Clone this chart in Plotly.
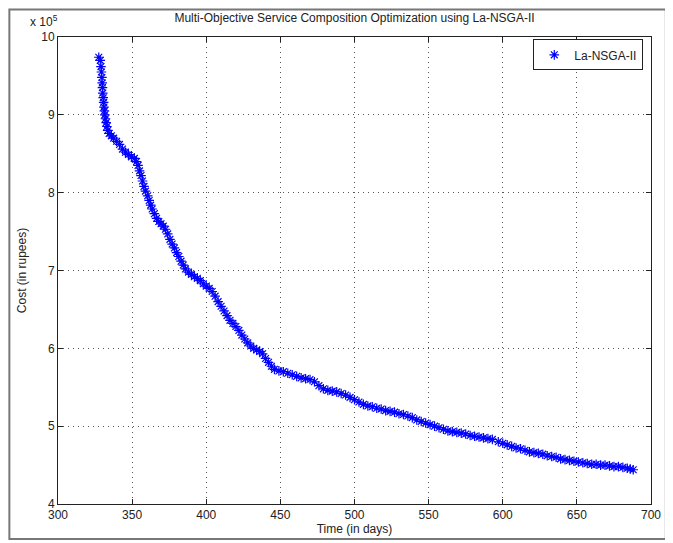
import plotly.graph_objects as go

# Time (in days)
time_days = [
    327.5, 328.5, 329.0, 329.3, 329.6, 329.8, 330.0, 330.2, 330.5, 330.8,
    331.0, 331.3, 331.6, 332.0, 332.5, 333.0, 333.5, 334.5, 336.0, 337.5,
    339.5, 341.5, 343.5, 345.5, 347.5, 349.5, 351.5, 353.0, 354.0, 355.0,
    356.0, 357.0, 358.0, 359.0, 360.5, 361.5, 362.5, 363.5, 365.0, 366.5,
    368.0, 369.5, 371.0, 372.5, 374.0, 375.5, 377.0, 378.5, 380.0, 381.5,
    383.0, 384.5, 386.0, 388.0, 390.0, 392.0, 394.0, 396.0, 398.0, 400.0,
    402.0, 404.0, 406.0, 408.0, 410.0, 412.0, 414.0, 416.0, 418.0, 420.0,
    422.0, 424.0, 426.0, 428.0, 430.0, 432.0, 434.0, 436.0, 438.0, 440.0,
    442.0, 444.0, 446.0, 449.0, 452.0, 455.0, 458.0, 461.0, 464.0, 467.0,
    470.0, 473.0, 476.0, 479.0, 482.0, 485.0, 488.0, 491.0, 494.0, 497.0,
    500.0, 503.0, 506.0, 509.0, 512.0, 515.0, 518.0, 521.0, 524.0, 527.0,
    530.0, 533.0, 536.0, 539.0, 542.0, 545.0, 548.0, 551.0, 554.0, 557.0,
    560.0, 563.0, 566.0, 569.0, 572.0, 575.0, 578.0, 581.0, 584.0, 587.0,
    590.0, 593.0, 597.0, 600.0, 603.0, 606.0, 609.0, 612.0, 615.0, 618.0,
    621.0, 624.0, 627.0, 630.0, 633.0, 636.0, 639.0, 642.0, 645.0, 648.0,
    651.0, 654.0, 657.0, 660.0, 663.0, 666.0, 669.0, 672.0, 675.0, 678.0,
    681.0, 684.0, 686.0, 688.0,
]

# Cost (in rupees), read in units of 1e5
cost_1e5 = [
    9.74, 9.70, 9.62, 9.55, 9.48, 9.41, 9.35, 9.28, 9.22, 9.16,
    9.10, 9.05, 9.00, 8.95, 8.90, 8.85, 8.80, 8.76, 8.73, 8.70,
    8.66, 8.62, 8.56, 8.52, 8.49, 8.46, 8.44, 8.40, 8.35, 8.28,
    8.22, 8.15, 8.08, 8.02, 7.96, 7.90, 7.84, 7.79, 7.73, 7.67,
    7.63, 7.60, 7.57, 7.53, 7.47, 7.40, 7.34, 7.29, 7.23, 7.18,
    7.12, 7.07, 7.02, 6.98, 6.95, 6.92, 6.90, 6.87, 6.83, 6.80,
    6.77, 6.73, 6.67, 6.60, 6.54, 6.48, 6.42, 6.36, 6.32, 6.28,
    6.23, 6.17, 6.12, 6.07, 6.03, 6.00, 5.98, 5.96, 5.93, 5.87,
    5.82, 5.77, 5.73, 5.71, 5.70, 5.68, 5.66, 5.64, 5.62, 5.61,
    5.60, 5.57, 5.52, 5.48, 5.46, 5.45, 5.44, 5.42, 5.40, 5.37,
    5.34, 5.31, 5.28, 5.26, 5.25, 5.23, 5.22, 5.20, 5.19, 5.18,
    5.16, 5.15, 5.13, 5.11, 5.08, 5.06, 5.04, 5.02, 5.00, 4.98,
    4.96, 4.94, 4.93, 4.92, 4.91, 4.90, 4.88, 4.87, 4.86, 4.85,
    4.84, 4.83, 4.80, 4.78, 4.76, 4.74, 4.72, 4.71, 4.69, 4.67,
    4.66, 4.65, 4.64, 4.62, 4.61, 4.60, 4.58, 4.57, 4.56, 4.55,
    4.54, 4.53, 4.52, 4.51, 4.51, 4.50, 4.50, 4.49, 4.48, 4.48,
    4.47, 4.46, 4.45, 4.44,
]
cost = [c * 1e5 for c in cost_1e5]

x_ticks = [300, 350, 400, 450, 500, 550, 600, 650, 700]
y_tick_labels = ["4", "5", "6", "7", "8", "9", "10"]
y_ticks = [int(v) * 100000 for v in y_tick_labels]

FONT = "Liberation Sans, Arial, Helvetica, sans-serif"

fig = go.Figure()
fig.add_trace(go.Scatter(
    x=time_days, y=cost, mode="markers", name="La-NSGA-II",
    marker=dict(symbol="asterisk-open", size=8, color="#0000FF",
                line=dict(color="#0000FF", width=1.2)),
))

axis_common = dict(
    showline=True, linecolor="#222", linewidth=1, mirror="ticks",
    ticks="inside", ticklen=5, tickcolor="#222",
    showgrid=True, gridcolor="#555", griddash="1px,4px", gridwidth=1,
    zeroline=False, tickfont=dict(size=12, color="#222", family=FONT),
)

# page body adds an 8px offset, so the figure is sized to fit the window
fig.update_layout(
    width=665, height=535,
    margin=dict(l=50, r=18, t=29, b=38),
    paper_bgcolor="white", plot_bgcolor="white",
    font=dict(family=FONT, size=12, color="#222"),
    title=dict(text="Multi-Objective Service Composition Optimization using La-NSGA-II",
               x=0.5, xref="paper", xanchor="center", y=1 - 10 / 535, yanchor="middle",
               font=dict(size=12, color="#222", family=FONT)),
    xaxis=dict(range=[300, 700], tickvals=x_ticks,
               title=dict(text="Time (in days)", standoff=0, font=dict(size=12)),
               **axis_common),
    yaxis=dict(range=[400000, 1000000], tickvals=y_ticks, ticktext=y_tick_labels,
               title=dict(text="Cost (in rupees)", standoff=12, font=dict(size=12)),
               **axis_common),
    showlegend=True,
    legend=dict(x=0.987, y=0.995, xanchor="right", yanchor="top",
                bordercolor="#222", borderwidth=1, bgcolor="white",
                font=dict(size=12, color="#222"), itemwidth=30),
)

fig.add_annotation(text="x 10<sup>5</sup>", xref="paper", yref="paper",
                   x=-0.05, y=1.035, xanchor="left", yanchor="middle",
                   showarrow=False, font=dict(size=12, color="#222"))

# outer frame around the whole figure
fig.add_shape(type="rect", xref="paper", yref="paper",
              x0=-0.082, x1=1.025, y0=-0.075, y1=1.059,
              line=dict(color="#777", width=2), layer="below")

fig.write_html("out.html")
